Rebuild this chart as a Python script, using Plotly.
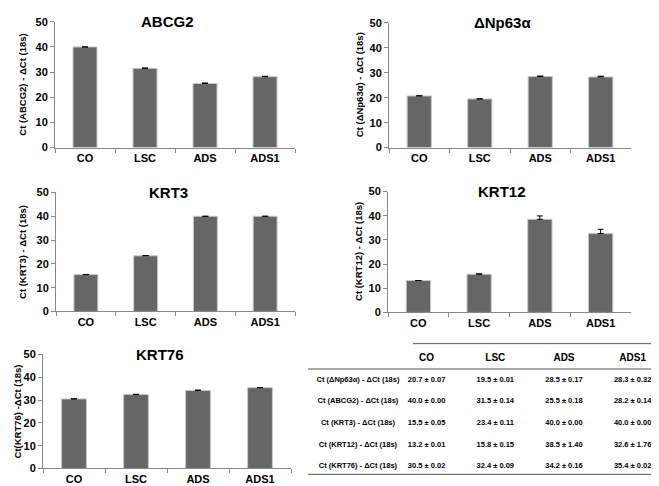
import plotly.graph_objects as go

groups = ["CO", "LSC", "ADS", "ADS1"]

genes = ["ABCG2", "ΔNp63α", "KRT3", "KRT12", "KRT76"]
ytitles = ["Ct (ABCG2) - ΔCt (18s)", "Ct (ΔNp63α) - ΔCt (18s)", "Ct (KRT3) - ΔCt (18s)",
           "Ct (KRT12) - ΔCt (18s)", "Ct(KRT76) -ΔCt (18s)"]

abcg2 = [40.0, 31.5, 25.5, 28.2]
abcg2_err = [0.00, 0.14, 0.18, 0.14]
np63 = [20.7, 19.5, 28.5, 28.3]
np63_err = [0.07, 0.01, 0.17, 0.32]
krt3 = [15.5, 23.4, 40.0, 40.0]
krt3_err = [0.05, 0.11, 0.00, 0.00]
krt12 = [13.2, 15.8, 38.5, 32.6]
krt12_err = [0.01, 0.15, 1.40, 1.76]
krt76 = [30.5, 32.4, 34.2, 35.4]
krt76_err = [0.02, 0.09, 0.16, 0.02]

means = [abcg2, np63, krt3, krt12, krt76]
errs = [abcg2_err, np63_err, krt3_err, krt12_err, krt76_err]

# table rows (order as in the paper)
table_labels = ["Ct (ΔNp63α) - ΔCt (18s)", "Ct (ABCG2) - ΔCt (18s)", "Ct (KRT3) - ΔCt (18s)",
                "Ct (KRT12) - ΔCt (18s)", "Ct (KRT76) - ΔCt (18s)"]
table_order = [1, 0, 2, 3, 4]

W, H = 659, 486
# panel boxes in pixels: left, right, top(50), bottom(0), y-title x
boxes = [(47, 287, 8, 137, 15), (381, 623, 9, 137, 351), (48, 287, 183, 305, 15),
         (380, 623, 182, 306, 351), (35, 283, 349, 466, 9)]

fig = go.Figure()
font = "Liberation Sans, Arial, sans-serif"

for i in range(5):
    n = "" if i == 0 else str(i + 1)
    fig.add_trace(go.Bar(
        x=groups, y=means[i], xaxis="x" + n, yaxis="y" + n,
        marker=dict(color="#666666", line=dict(color="#c8c8c8", width=1)),
        error_y=dict(type="data", array=errs[i], arrayminus=[0] * 4, symmetric=False,
                     color="black", thickness=1, width=3),
        showlegend=False,
    ))
    l, r, t, b, tx_ = boxes[i]
    fig.update_layout(**{
        "xaxis" + n: dict(domain=[l / W, r / W], anchor="y" + n, showline=True,
                          linecolor="#888888", linewidth=1, ticks="outside", tickson="boundaries",
                          ticklen=4, tickcolor="#888888", showgrid=False,
                          tickfont=dict(family=font, size=11, color="black", weight="bold")),
        "yaxis" + n: dict(domain=[1 - b / H, 1 - t / H], anchor="x" + n, range=[0, 50],
                          dtick=10, showline=True, linecolor="#888888", linewidth=1,
                          ticks="outside", ticklen=4, tickcolor="#888888", showgrid=False,
                          zeroline=False,
                          tickfont=dict(family=font, size=11, color="black", weight="bold")),
    })
    fig.add_annotation(text="<b>" + genes[i] + "</b>", xref="x" + n + " domain",
                       yref="y" + n + " domain", x=0.47, y=1.0, showarrow=False,
                       xanchor="center", yanchor="middle",
                       font=dict(family=font, size=15, color="black"))
    fig.add_annotation(text="<b>" + ytitles[i] + "</b>", xref="paper", yref="y" + n + " domain",
                       x=tx_ / W, y=0.5, textangle=-90, showarrow=False,
                       xanchor="center", yanchor="middle",
                       font=dict(family=font, size=9.5, color="black"))

# table as text trace on hidden category axes
cols = [""] + groups
rows = ["head"] + table_labels
tx, ty, tt = [], [], []
for g in groups:
    tx.append(g); ty.append("head"); tt.append("<b>" + g + "</b>")
for k, gi in enumerate(table_order):
    tx.append(""); ty.append(table_labels[k]); tt.append("<b>" + table_labels[k] + "</b>")
    for j, g in enumerate(groups):
        tx.append(g); ty.append(table_labels[k])
        tt.append("<b>%.1f ± %.2f</b>" % (means[gi][j], errs[gi][j]))
sizes = [10 if y == "head" else 7.5 for y in ty]
fig.add_trace(go.Scatter(x=tx, y=ty, text=tt, mode="text", xaxis="x6", yaxis="y6",
                         textfont=dict(family=font, size=sizes, color="black"),
                         cliponaxis=False, showlegend=False, hoverinfo="skip"))
fig.update_layout(
    xaxis6=dict(domain=[315.6 / W, 1.0], anchor="y6", type="category",
                categoryorder="array", categoryarray=cols, range=[-0.5, 4.5], visible=False),
    yaxis6=dict(domain=[1 - 475 / H, 1 - 342 / H], anchor="x6", type="category",
                categoryorder="array", categoryarray=rows, range=[5.5, -0.5], visible=False),
)
for (x0, x1, y) in [(405, 659, 338), (300, 659, 364), (300, 659, 472)]:
    fig.add_shape(type="line", xref="paper", yref="paper", x0=x0 / W, x1=x1 / W,
                  y0=1 - y / H, y1=1 - y / H, line=dict(color="#555555", width=1))

fig.update_layout(width=W, height=H, margin=dict(l=0, r=0, t=0, b=0),
                  plot_bgcolor="white", paper_bgcolor="white", bargap=0.6,
                  font=dict(family=font, color="black"))
fig.write_html("out.html")
